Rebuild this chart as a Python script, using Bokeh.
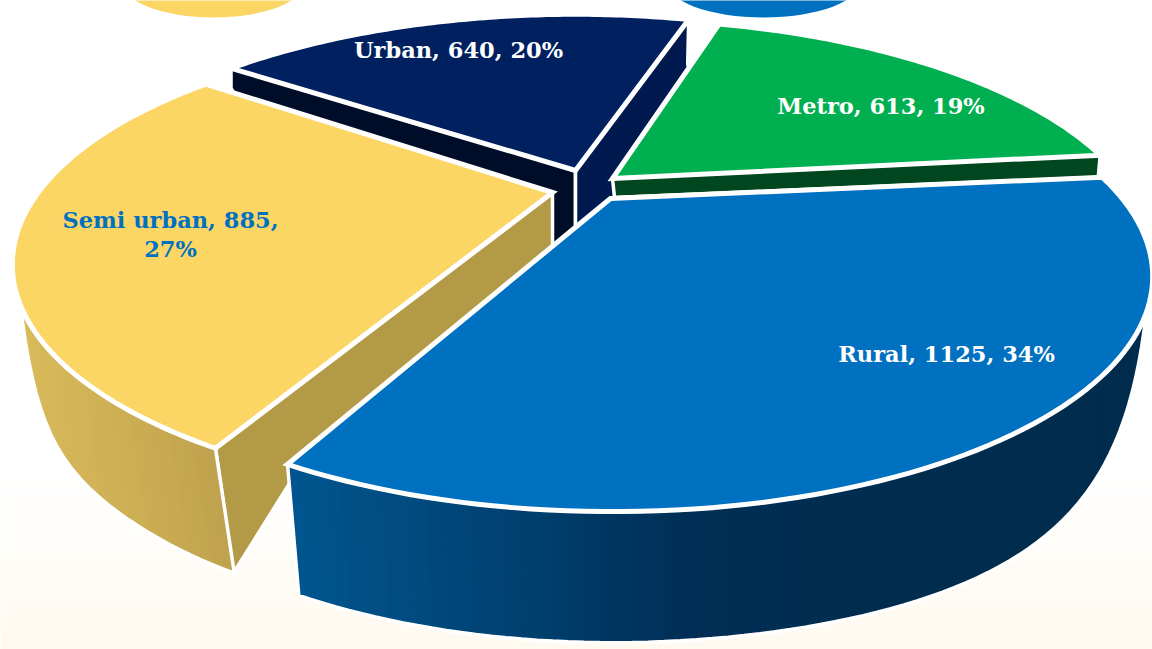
import math
from bokeh.plotting import figure
from bokeh.embed import file_html
from bokeh.resources import INLINE
from bokeh.core.properties import value

# ---- data ----
categories = ["Metro", "Urban", "Semi urban", "Rural"]
values = [613, 640, 885, 1125]
percents = [19, 20, 27, 34]

# ---- styles / layout ----
top_colors = ["#00B050", "#002060", "#FBD665", "#0070C0"]
legend_colors = ["#FBD665", "#0070C0"]
START = 5.5
A, B, P = 508.0, 208.0, 0.34
APEX = [(612, 178), (575, 170), (552, 192), (610, 198)]
ARC_OFFSET = [(-2, -4), (0, -1), (0, -8), (2, -2)]
ANGLE_TRIM = [(0, 0.4), (-0.3, 0.6), (1.0, 1.0), (2.2, 0)]
WHITE = "#FFFFFF"

W, H = 1152, 649
p = figure(width=W, height=H, x_range=(0, W), y_range=(H, 0),
           output_backend="svg", toolbar_location=None, min_border=0)
p.axis.visible = False
p.grid.visible = False
p.outline_line_color = None
p.background_fill_color = WHITE
p.border_fill_color = WHITE


def lerp_color(c0, c1, t):
    t = max(0.0, min(1.0, t))
    a = [int(c0[i:i + 2], 16) for i in (1, 3, 5)]
    b = [int(c1[i:i + 2], 16) for i in (1, 3, 5)]
    return "#%02x%02x%02x" % tuple(round(a[i] + (b[i] - a[i]) * t) for i in range(3))


# page background: faint cream towards the bottom
for y0 in range(465, 650, 6):
    col = lerp_color("#FFFFFF", "#FFFAF0", (y0 - 465) / 184)
    p.quad(left=0, right=W, top=y0, bottom=y0 + 7, fill_color=col, line_color=None)

# the two legend keys cut off by the top edge
p.ellipse(x=[213, 763], y=[-20, -20], width=[186, 196], height=[74, 74],
          fill_color=legend_colors, line_color=None)

# slice angles from the values
total = sum(values)
angles = []
a = START
for i, v in enumerate(values):
    b = a + 360.0 * v / total
    angles.append((a + ANGLE_TRIM[i][0], b + ANGLE_TRIM[i][1]))
    a = b


def rim(i, th):
    t = math.radians(th)
    u, w = math.cos(t), -math.sin(t)
    s = 1.0 / (1.0 - P * w)
    return (APEX[i][0] + ARC_OFFSET[i][0] + A * u * s,
            APEX[i][1] + ARC_OFFSET[i][1] + B * w * s)


def arc(i, n=90):
    a0, a1 = angles[i]
    return [rim(i, a0 + (a1 - a0) * k / n) for k in range(n + 1)]


def top(i):
    pts = [APEX[i]] + arc(i)
    p.patch([q[0] for q in pts], [q[1] for q in pts], fill_color=top_colors[i],
            line_color=WHITE, line_width=5, line_join="miter")


def poly(pts, color, lw=3.5):
    p.patch([q[0] for q in pts], [q[1] for q in pts], fill_color=color,
            line_color=WHITE, line_width=lw)


def radial_wall(i, th, end_drop, end_dx, hidden, color):
    e = rim(i, th)
    be = (e[0] + end_dx, e[1] + end_drop)
    poly([APEX[i], e, be] + [(be[0] + h[0], be[1] + h[1]) if h[2] else (h[0], h[1]) for h in hidden], color)


def rim_wall(i, th0, th1, sat, depth, q, kx, stops, xlo, xhi):
    """Curved outer wall from the silhouette th0 to th1, colour running with x."""
    n = int(abs(th1 - th0) / 1.2)
    tops, bots = [], []
    ax = APEX[i][0]
    for k in range(n + 1):
        th = th0 + (th1 - th0) * k / n
        f = 1.0 - (1.0 - min(1.0, abs(th - th0) / sat)) ** q
        x, y = rim(i, th)
        tops.append((x, y))
        bots.append((x + kx * max(0.0, ax - x) * f ** 8, y + depth * f))
    for k in range(n):
        cx = (tops[k][0] + tops[k + 1][0]) / 2
        t = (cx - xlo) / (xhi - xlo) * (len(stops) - 1)
        t = max(0.0, min(t, len(stops) - 1.001))
        j = int(t)
        col = lerp_color(stops[j], stops[j + 1], t - j)
        quad_pts = [tops[k], tops[k + 1], bots[k + 1], bots[k]]
        p.patch([c[0] for c in quad_pts], [c[1] for c in quad_pts],
                fill_color=col, line_color=col, line_width=1)
    outline = tops + bots[::-1]
    p.patch([c[0] for c in outline], [c[1] for c in outline],
            fill_color=None, line_color=WHITE, line_width=3.5)


# Urban
a0, a1 = angles[1]
radial_wall(1, a1, 20, 0, [(300, 200, False), (575, 300, False)], "#000D29")
radial_wall(1, a0, 45, -1, [(702, 100, False), (575, 300, False)], "#001A4F")
top(1)
# Metro
a0, a1 = angles[0]
radial_wall(0, a0, 22, -2, [(614, 197, False)], "#00461E")
top(0)
# Semi urban
a0, a1 = angles[2]
radial_wall(2, a1, 125, 18, [(68, -109, True), (552, 300, False)], "#B39A47")
rim_wall(2, 209, a1, a1 - 209, 125, 3.2, 0.056, ["#D9BA5A", "#BFA24E"], 30, 215)
top(2)
# Rural
a0, a1 = angles[3]
rim_wall(3, 332, a0, 52, 131, 4.0, 0.035,
         ["#00568F", "#004374", "#002E55", "#002C4D", "#002C4D"], 285, 1100)
top(3)

# labels
xs = [880.5, 458, 170, 170, 946]
ys = [105.5, 49.5, 219.5, 248.5, 353.5]
t_col = [WHITE, WHITE, "#0070C0", "#0070C0", WHITE]
labels = []
for c, v, pc in zip(categories, values, percents):
    if c == "Semi urban":
        labels += [f"{c}, {v},", f"{pc}%"]
    else:
        labels.append(f"{c}, {v}, {pc}%")
p.text(x=xs, y=ys, text=labels, text_color=t_col, text_align="center", text_baseline="middle",
       text_font=value("DejaVu Serif"), text_font_style="bold", text_font_size="22.5px")

open("out.html", "w").write(file_html(p, INLINE))
